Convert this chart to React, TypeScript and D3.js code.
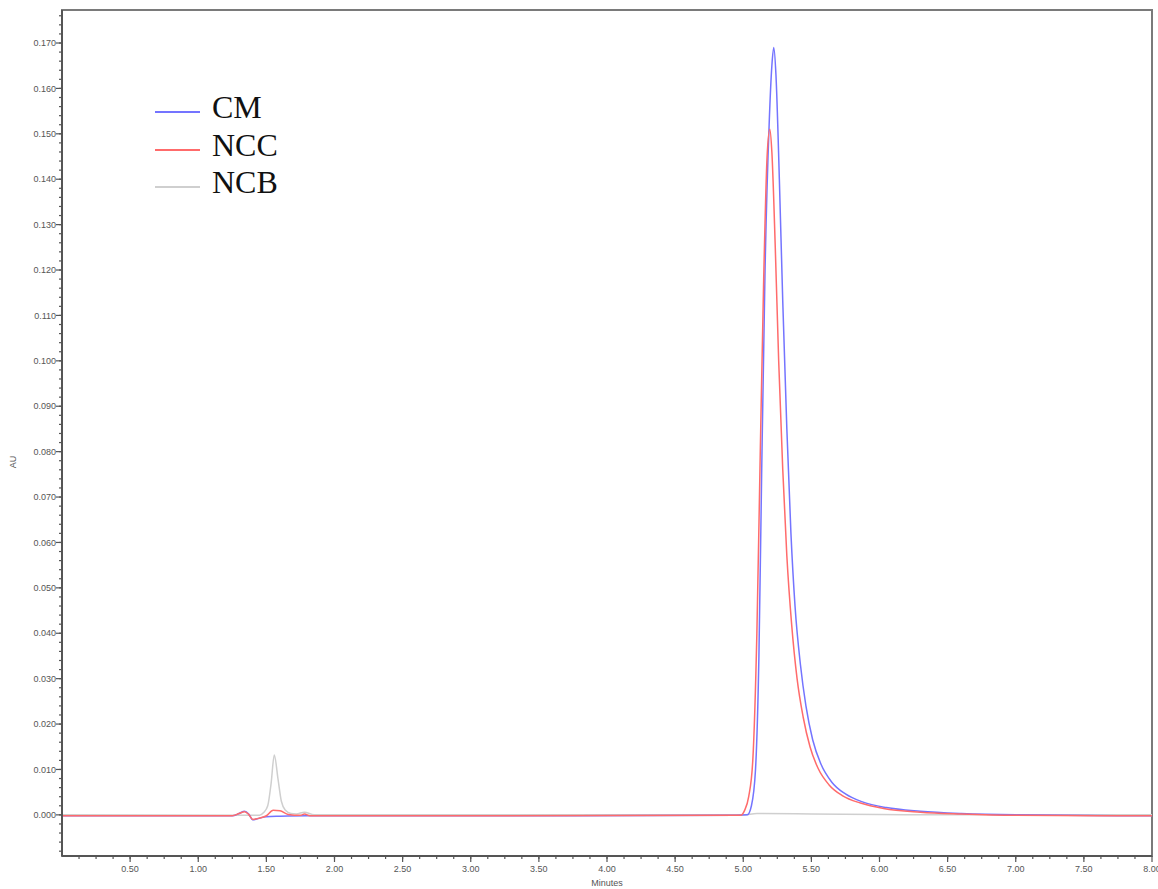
import React from 'react';
import * as d3 from 'd3';

// retention time (min) / absorbance (AU)
const cmPoints: [number, number][] = [
  [0, -0.0002], [1.25, -0.0002], [1.30, 0.0003], [1.34, 0.0008], [1.37, 0.0002],
  [1.40, -0.0011], [1.44, -0.0008], [1.50, -0.0004], [1.60, -0.0003], [1.80, -0.0002],
  [3.0, -0.0002], [4.95, -0.0001], [5.03, 0.0], [5.06, 0.002], [5.09, 0.010],
  [5.115, 0.035], [5.135, 0.075], [5.16, 0.120], [5.19, 0.152], [5.21, 0.165],
  [5.224, 0.169], [5.24, 0.163], [5.265, 0.140], [5.29, 0.113], [5.32, 0.085],
  [5.35, 0.062], [5.38, 0.046], [5.42, 0.033], [5.46, 0.024], [5.51, 0.0165],
  [5.57, 0.0112], [5.65, 0.0072], [5.75, 0.0046], [5.88, 0.0028], [6.05, 0.0016],
  [6.3, 0.0008], [6.6, 0.0003], [7.0, 0.0], [8.0, -0.0002],
];

const nccPoints: [number, number][] = [
  [0, -0.0002], [1.25, -0.0002], [1.30, 0.0003], [1.34, 0.0007], [1.37, 0.0001],
  [1.40, -0.0010], [1.45, -0.0007], [1.50, -0.0002], [1.55, 0.0010], [1.60, 0.0009],
  [1.66, 0.0001], [1.75, -0.0001], [1.78, 0.0002], [1.82, -0.0002], [3.0, -0.0002],
  [4.98, -0.0001], [5.01, 0.001], [5.04, 0.004], [5.07, 0.012], [5.10, 0.040],
  [5.125, 0.080], [5.15, 0.118], [5.175, 0.145], [5.195, 0.151], [5.21, 0.146],
  [5.235, 0.125], [5.26, 0.100], [5.29, 0.076], [5.32, 0.057], [5.355, 0.042],
  [5.395, 0.030], [5.44, 0.0215], [5.49, 0.0150], [5.55, 0.0102], [5.63, 0.0066],
  [5.73, 0.0042], [5.86, 0.0026], [6.03, 0.0014], [6.3, 0.0006], [6.6, 0.0002],
  [7.0, -0.0001], [8.0, -0.0002],
];

const ncbPoints: [number, number][] = [
  [0, 0.0], [1.45, -0.0001], [1.48, 0.0005], [1.51, 0.002], [1.535, 0.007],
  [1.558, 0.0132], [1.585, 0.008], [1.61, 0.003], [1.64, 0.001], [1.68, 0.0003],
  [1.72, 0.0002], [1.78, 0.0006], [1.85, 0.0], [3.0, 0.0], [5.0, 0.0],
  [5.1, 0.0003], [5.5, 0.0002], [6.0, 0.0001], [6.5, 0.0], [8.0, 0.0],
];

const seriesNames = ['CM', 'NCC', 'NCB'];
const seriesColors = ['#7474ff', '#ff6b6b', '#cfcfcf'];

const yMajorTicks = d3.range(0, 0.1705, 0.01);
const yMinorTicks = d3.range(-0.008, 0.177, 0.002);
const xMajorTicks = d3.range(0.5, 8.01, 0.5);
const xMinorTicks = d3.range(0.125, 8.0, 0.125);

const W = 1158;
const H = 889;
const left = 62, right = 1152, top = 10, bottom = 856;

export default function App() {
  const x = d3.scaleLinear().domain([0, 8.0]).range([left, right]);
  const y = d3.scaleLinear().domain([-0.00906, 0.17727]).range([bottom, top]);

  const line = d3.line<[number, number]>()
    .x(d => x(d[0]))
    .y(d => y(d[1]))
    .curve(d3.curveMonotoneX);

  const drawOrder = [
    { pts: ncbPoints, color: seriesColors[2] },
    { pts: cmPoints, color: seriesColors[0] },
    { pts: nccPoints, color: seriesColors[1] },
  ];

  const fmtY = d3.format('.3f');
  const fmtX = d3.format('.2f');
  const tickFont = { fontFamily: 'Liberation Sans, Arial, sans-serif', fontSize: 9, fill: '#555' };

  return (
    <svg width={W} height={H} style={{ position: 'absolute', left: 0, top: 0, background: '#fff' }}>
      <defs>
        <clipPath id="plot">
          <rect x={left} y={top} width={right - left} height={bottom - top} />
        </clipPath>
      </defs>

      {/* frame */}
      <rect x={left} y={top} width={right - left} height={bottom - top} fill="none" stroke="#7a7a7a" strokeWidth={2} />

      {/* traces */}
      <g clipPath="url(#plot)">
        {drawOrder.map((s, i) => (
          <path key={i} d={line(s.pts) || ''} fill="none" stroke={s.color} strokeWidth={1.5} />
        ))}
      </g>

      {/* y axis */}
      <line x1={left} x2={left} y1={top} y2={bottom} stroke="#555" strokeWidth={2} />
      {yMinorTicks.map((t, i) => (
        <line key={'ym' + i} x1={left - 3} x2={left} y1={y(t)} y2={y(t)} stroke="#555" strokeWidth={1.2} />
      ))}
      {yMajorTicks.map((t, i) => (
        <g key={'yM' + i}>
          <line x1={left - 6} x2={left} y1={y(t)} y2={y(t)} stroke="#555" strokeWidth={1.2} />
          <text x={left - 6} y={y(t)} dy="0.35em" textAnchor="end" style={tickFont}>{fmtY(t)}</text>
        </g>
      ))}
      <text transform={`translate(16, 462) rotate(-90)`} textAnchor="middle" style={tickFont}>AU</text>

      {/* x axis */}
      <line x1={left} x2={right} y1={bottom} y2={bottom} stroke="#555" strokeWidth={2} />
      {xMinorTicks.map((t, i) => (
        <line key={'xm' + i} x1={x(t)} x2={x(t)} y1={bottom} y2={bottom + 3} stroke="#555" strokeWidth={1.2} />
      ))}
      {xMajorTicks.map((t, i) => (
        <g key={'xM' + i}>
          <line x1={x(t)} x2={x(t)} y1={bottom} y2={bottom + 6} stroke="#555" strokeWidth={1.2} />
          <text x={x(t)} y={bottom + 16} textAnchor="middle" style={tickFont}>{fmtX(t)}</text>
        </g>
      ))}
      <text x={x(4.0)} y={bottom + 30} textAnchor="middle" style={tickFont}>Minutes</text>

      {/* legend */}
      {seriesNames.map((name, i) => {
        const ly = [112, 150, 187][i];
        return (
          <g key={name}>
            <line x1={155} x2={200} y1={ly} y2={ly} stroke={seriesColors[i]} strokeWidth={2} />
            <text x={212} y={ly + 6} style={{ fontFamily: 'Liberation Serif, Times New Roman, serif', fontSize: 32, fill: '#111' }}>{name}</text>
          </g>
        );
      })}
    </svg>
  );
}
